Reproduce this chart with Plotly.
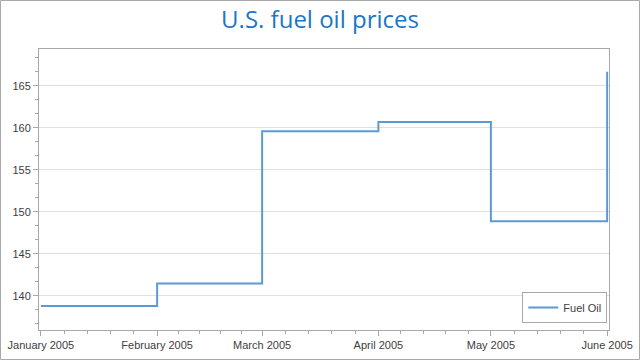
import plotly.graph_objects as go
import pandas as pd

dates = ["2005-01-01", "2005-02-01", "2005-03-01", "2005-04-01", "2005-05-01", "2005-06-01"]
prices = [138.8, 141.5, 159.6, 160.7, 148.9, 166.7]
series_name = "Fuel Oil"
title_text = "U.S. fuel oil prices"

W, H = 640, 360
ml, mr, mt, mb = 39, 31, 49, 30

# minor x ticks: 5 divisions per month
d = pd.to_datetime(dates)
minor_x = []
for a, b in zip(d[:-1], d[1:]):
    for k in range(1, 5):
        minor_x.append(a + (b - a) * k / 5)

fig = go.Figure()
fig.add_trace(go.Scatter(
    x=dates, y=prices, name=series_name, mode="lines",
    line=dict(shape="hv", color="#5B9BD5", width=2),
    showlegend=True,
))

axis_col = "#A8A8A8"
tick_font = dict(family="Liberation Sans", size=11, color="#404040")

fig.update_layout(
    width=W, height=H,
    margin=dict(l=ml, r=mr, t=mt, b=mb, autoexpand=False),
    paper_bgcolor="white", plot_bgcolor="white",
    title=dict(text=title_text, x=0.5, xanchor="center", y=1 - 20 / H, yanchor="middle",
               font=dict(family="Open Sans", size=24, color="#1A76C8")),
    legend=dict(x=0.997, y=0.025, xanchor="right", yanchor="bottom",
                bordercolor=axis_col, borderwidth=1, bgcolor="white",
                font=dict(family="Liberation Sans", size=11, color="#404040"),
                itemwidth=30),
    xaxis=dict(
        type="date", automargin=False,
        range=["2004-12-31 12:00", "2005-06-01 12:00"],
        tickvals=dates, tickformat="%B %Y",
        showgrid=False, zeroline=False,
        showline=True, linecolor=axis_col, linewidth=1, mirror=True,
        ticks="outside", ticklen=5, tickcolor=axis_col,
        tickfont=tick_font,
        minor=dict(tickvals=minor_x, ticks="outside", ticklen=3, tickcolor=axis_col, showgrid=False),
    ),
    yaxis=dict(
        automargin=False,
        range=[135.95, 169.4],
        tick0=140, dtick=5,
        showgrid=True, gridcolor="#E0E0E0", gridwidth=1,
        zeroline=False,
        showline=True, linecolor=axis_col, linewidth=1, mirror=True,
        ticks="outside", ticklen=5, tickcolor=axis_col,
        tickfont=tick_font,
        minor=dict(tick0=140, dtick=5 / 3, ticks="outside", ticklen=3, tickcolor=axis_col, showgrid=False),
    ),
)

# outer frame around the whole chart
pw, ph = W - ml - mr, H - mt - mb
fig.add_shape(type="rect", xref="paper", yref="paper",
              x0=-(ml - 0.5) / pw, x1=1 + (mr - 0.5) / pw,
              y0=-(mb - 0.5) / ph, y1=1 + (mt - 0.5) / ph,
              line=dict(color="#A8A8A8", width=1), layer="below")

fig.write_html("out.html", config={"displayModeBar": False},
               post_script="document.body.style.margin='0';document.body.style.overflow='hidden';")
